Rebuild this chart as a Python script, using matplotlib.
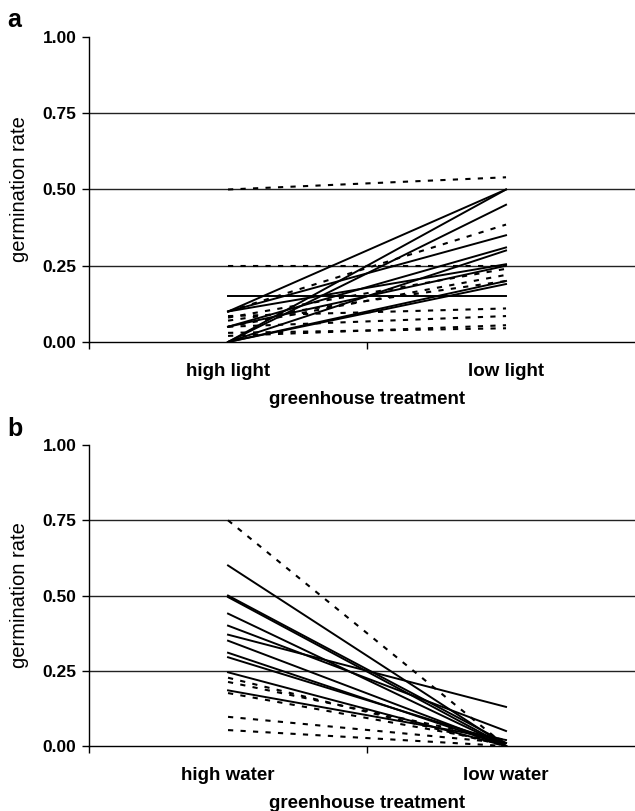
import matplotlib
matplotlib.use('Agg')
import matplotlib.pyplot as plt

plt.rcParams['font.family'] = ['Liberation Sans', 'DejaVu Sans']

light_groups = ['high light', 'low light']
water_groups = ['high water', 'low water']
ytick_values = [0.0, 0.25, 0.5, 0.75, 1.0]
grid_values = [0.25, 0.5, 0.75]

# panel a, solid lines: value under high light, value under low light
light_solid_high = [0.10, 0.00, 0.00, 0.10, 0.05, 0.00, 0.10, 0.15, 0.00, 0.00, 0.05]
light_solid_low = [0.50, 0.50, 0.45, 0.35, 0.31, 0.30, 0.255, 0.15, 0.20, 0.19, 0.25]
# panel a, dashed lines
light_dash_high = [0.50, 0.25, 0.10, 0.08, 0.05, 0.07, 0.085, 0.05, 0.02, 0.03]
light_dash_low = [0.54, 0.25, 0.385, 0.24, 0.22, 0.20, 0.11, 0.085, 0.055, 0.045]

# panel b, solid lines: value under high water, value under low water
water_solid_high = [0.60, 0.50, 0.495, 0.44, 0.40, 0.37, 0.35, 0.31, 0.295, 0.245, 0.185]
water_solid_low = [0.00, 0.01, 0.00, 0.00, 0.05, 0.13, 0.00, 0.00, 0.01, 0.00, 0.02]
# panel b, dashed lines
water_dash_high = [0.75, 0.227, 0.213, 0.176, 0.097, 0.053]
water_dash_low = [0.00, 0.00, 0.02, 0.01, 0.01, 0.00]


def draw_panel(ax, groups, solid_hi, solid_lo, dash_hi, dash_lo):
    for v in grid_values:
        ax.axhline(v, color='#222222', lw=1.0, zorder=0)
    for a, b in zip(dash_hi, dash_lo):
        ax.plot([1, 2], [a, b], color='black', lw=1.5, linestyle=(0, (2.5, 3.5)))
    for a, b in zip(solid_hi, solid_lo):
        ax.plot([1, 2], [a, b], color='black', lw=1.4)

    ax.set_xlim(0.5, 2.5)
    ax.set_ylim(0, 1)
    ax.spines['top'].set_visible(False)
    ax.spines['right'].set_visible(False)
    ax.spines['left'].set_linewidth(1.0)
    ax.spines['bottom'].set_linewidth(1.0)

    ax.set_xticks([0.5, 1.5, 2.5])
    ax.set_xticklabels(['', '', ''])
    ax.tick_params(axis='x', which='major', direction='out', length=5, width=1)
    ax.set_xticks([1, 2], minor=True)
    ax.set_xticklabels(groups, minor=True, fontsize=13.5, fontweight='bold')
    ax.tick_params(axis='x', which='minor', length=0, pad=15)

    ax.set_yticks(ytick_values)
    ax.set_yticklabels(['%.2f' % v for v in ytick_values], fontsize=12.5, fontweight='bold')
    ax.tick_params(axis='y', direction='out', length=5, width=1, pad=4)

    ax.set_xlabel('greenhouse treatment', fontsize=13.5, fontweight='bold', labelpad=8)
    ax.set_ylabel('germination rate', fontsize=14.5, labelpad=10)


fig = plt.figure(figsize=(6.35, 8.11), dpi=100)
ax1 = fig.add_axes([0.1402, 0.5783, 0.8756, 0.3761])
ax2 = fig.add_axes([0.1402, 0.0801, 0.8756, 0.3711])

draw_panel(ax1, light_groups, light_solid_high, light_solid_low, light_dash_high, light_dash_low)
draw_panel(ax2, water_groups, water_solid_high, water_solid_low, water_dash_high, water_dash_low)

fig.text(0.012, 0.967, 'a', fontsize=18, fontweight='bold')
fig.text(0.012, 0.462, 'b', fontsize=18, fontweight='bold')

fig.savefig('out.png', dpi=100)
